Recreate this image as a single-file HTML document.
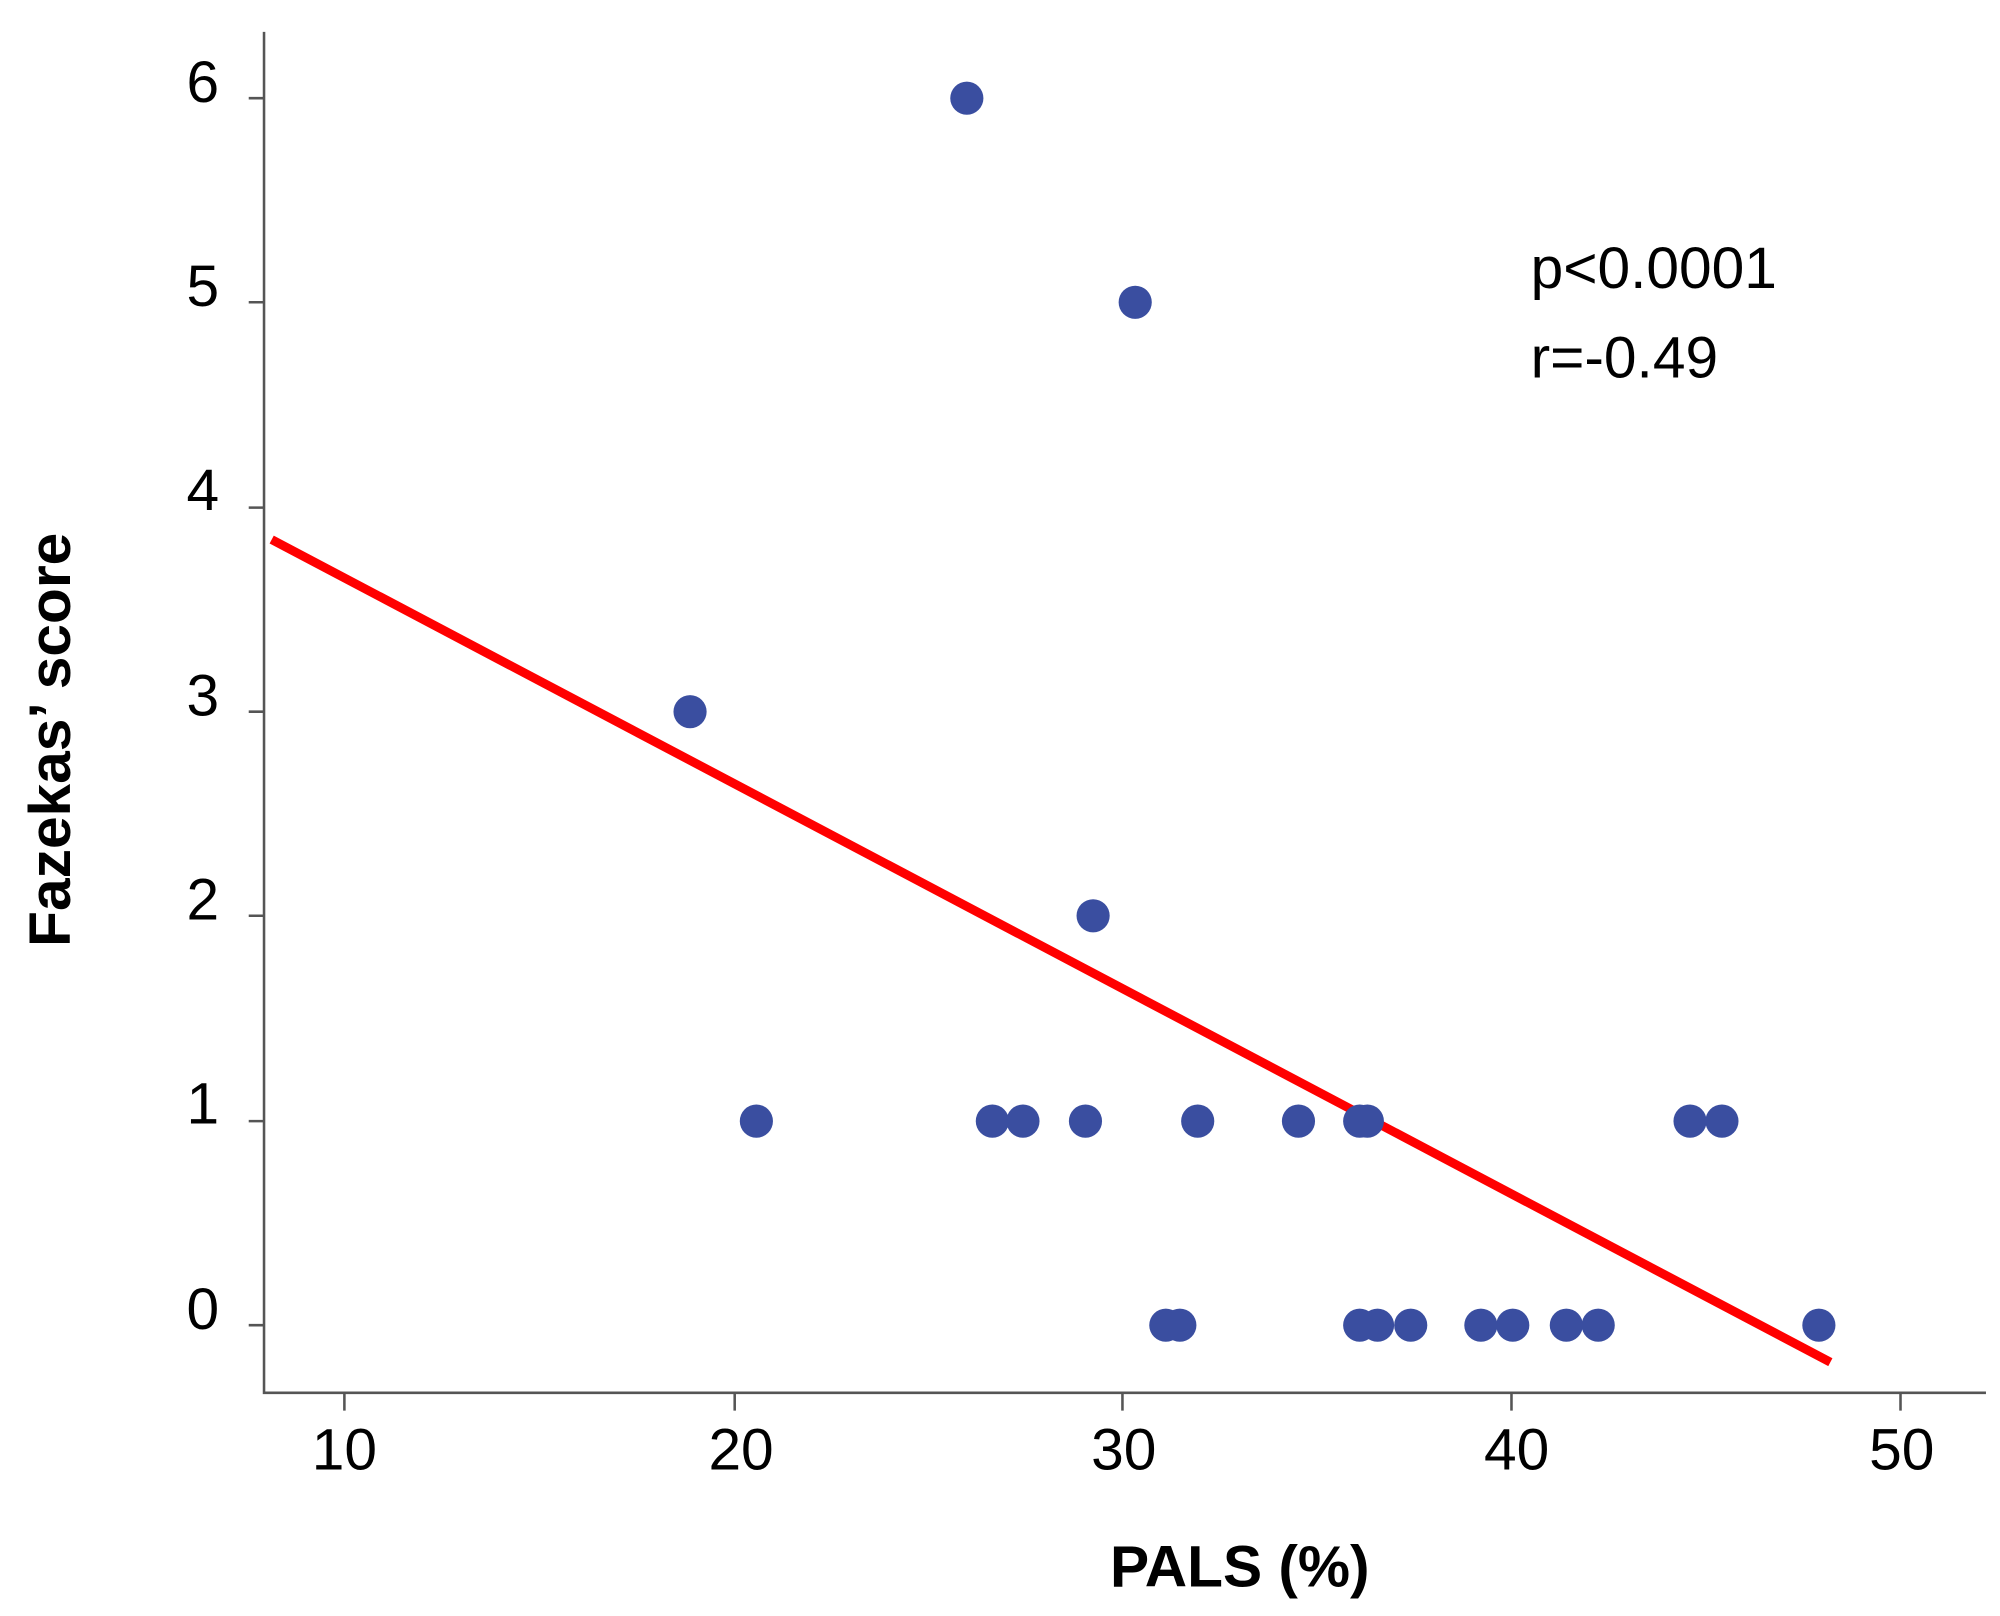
<!DOCTYPE html>
<html><head><style>html,body{margin:0;padding:0;background:#fff}svg{display:block}</style></head>
<body>
<svg width="2000" height="1616" viewBox="0 0 1568 1267" preserveAspectRatio="none" xmlns="http://www.w3.org/2000/svg" font-family="'Liberation Sans', sans-serif">
<rect width="1568" height="1267" fill="#fff"/>
<g stroke="#555" stroke-width="2" fill="none">
<path d="M207 25 V1092 H1557"/>
<path d="M195 77H207M195 237H207M195 398H207M195 558H207M195 718H207M195 879H207M195 1039H207"/>
<path d="M270 1092V1106M576 1092V1106M880 1092V1106M1185 1092V1106M1490 1092V1106"/>
</g>
<g font-size="46" fill="#000" text-anchor="middle">
<text x="159" y="80">6</text><text x="159" y="240">5</text><text x="159" y="400">4</text>
<text x="159" y="561">3</text><text x="159" y="721">2</text><text x="159" y="881">1</text><text x="159" y="1042">0</text>
<text x="270" y="1152">10</text><text x="581" y="1152">20</text><text x="881" y="1152">30</text><text x="1189" y="1152">40</text><text x="1491" y="1152">50</text>
</g>
<text x="972" y="1244" font-size="46" font-weight="bold" text-anchor="middle">PALS (%)</text>
<text transform="translate(55,580) rotate(-90)" font-size="46" font-weight="bold" text-anchor="middle">Fazekas’ score</text>
<text x="1200" y="226" font-size="46">p&lt;0.0001</text>
<text x="1200" y="296" font-size="46">r=-0.49</text>
<line x1="213" y1="423" x2="1435" y2="1068" stroke="#f00" stroke-width="7"/>
<g fill="#3a4ea0">
<circle cx="758" cy="77" r="13"/><circle cx="890" cy="237" r="13"/><circle cx="541" cy="558" r="13"/><circle cx="857" cy="718" r="13"/>
<circle cx="593" cy="879" r="13"/><circle cx="778" cy="879" r="13"/><circle cx="802" cy="879" r="13"/><circle cx="851" cy="879" r="13"/>
<circle cx="939" cy="879" r="13"/><circle cx="1018" cy="879" r="13"/><circle cx="1066" cy="879" r="13"/><circle cx="1072" cy="879" r="13"/>
<circle cx="1325" cy="879" r="13"/><circle cx="1350" cy="879" r="13"/>
<circle cx="914" cy="1039" r="13"/><circle cx="925" cy="1039" r="13"/><circle cx="1066" cy="1039" r="13"/><circle cx="1080" cy="1039" r="13"/>
<circle cx="1106" cy="1039" r="13"/><circle cx="1161" cy="1039" r="13"/><circle cx="1186" cy="1039" r="13"/><circle cx="1228" cy="1039" r="13"/>
<circle cx="1253" cy="1039" r="13"/><circle cx="1426" cy="1039" r="13"/>
</g>
</svg>
</body></html>
